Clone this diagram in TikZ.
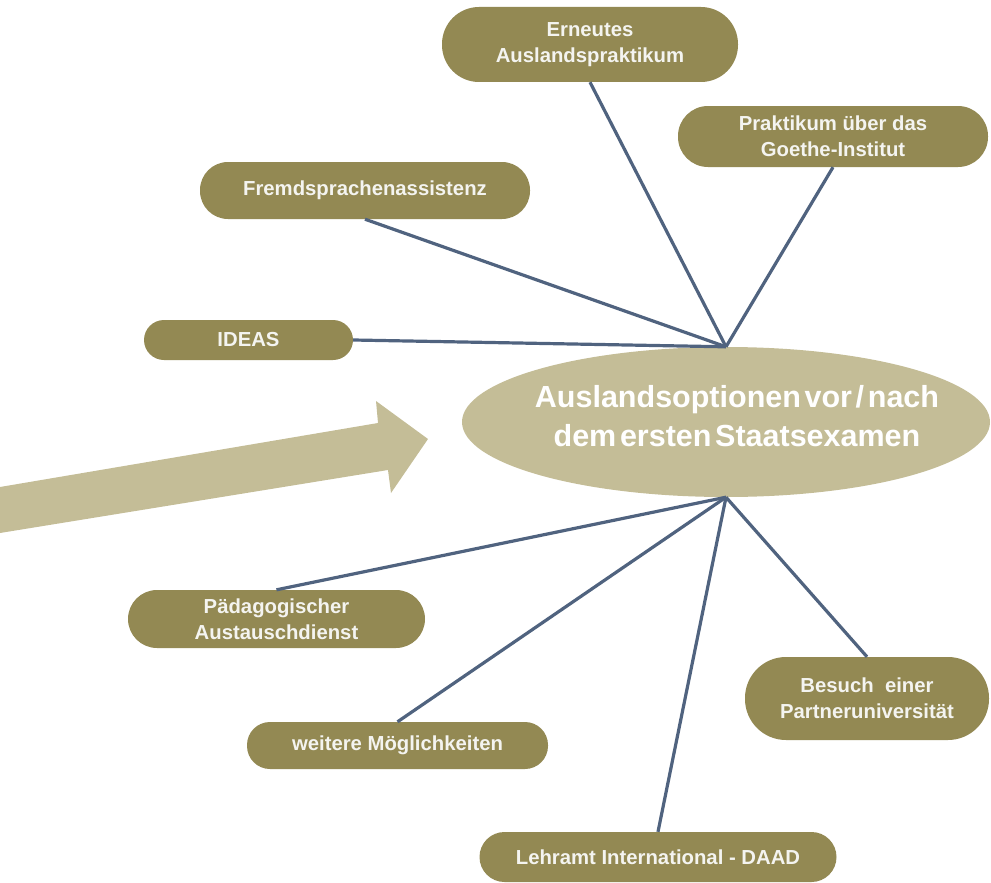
\documentclass[tikz,border=0pt]{standalone}
\usepackage{fontspec}
\setmainfont{Liberation Sans}
\usetikzlibrary{shapes.geometric}
\definecolor{boxfill}{HTML}{938953}
\definecolor{ellfill}{HTML}{C4BD97}
\definecolor{linecol}{HTML}{50637F}
\definecolor{txtcol}{HTML}{F4F4F0}
\tikzset{
  optbox/.style={fill=boxfill, text=txtcol, font=\fontsize{20.3}{26}\selectfont\bfseries,
    align=center, inner sep=0pt},
  conn/.style={draw=linecol, line width=3.2pt},
  centre/.style={ellipse, fill=ellfill, inner sep=0pt,
    minimum width=528pt, minimum height=150pt},
  centretext/.style={text=white, align=center, inner sep=0pt,
    font=\fontsize{30.5}{39}\selectfont\bfseries}
}
\begin{document}
\begin{tikzpicture}[x=1pt,y=-1pt]
\useasboundingbox (0,0) rectangle (991,883);
% big arrow
\fill[ellfill] (0,487) -- (378,423) -- (376,401) -- (428,439) -- (391,493) -- (388,470) -- (0,533) -- cycle;
% central ellipse
\node[centre] (c) at (726,422) {};
\node[centretext] (ct) at (737,416) {\spaceskip=0.12em Auslandsoptionen vor / nach\\\spaceskip=0.12em dem ersten Staatsexamen};
% boxes
\node[optbox, minimum width=296pt, minimum height=75pt, rounded corners=37pt] (erneut) at (590,44.5) {Erneutes\\Auslandspraktikum};
\node[optbox, minimum width=310pt, minimum height=61pt, rounded corners=30pt] (goethe) at (833,136.5) {Praktikum über das\\Goethe-Institut};
\node[optbox, minimum width=330pt, minimum height=57pt, rounded corners=28pt] (fremd) at (365,190.5) {Fremdsprachenassistenz};
\node[optbox, minimum width=209pt, minimum height=40pt, rounded corners=20pt] (ideas) at (248.5,340) {IDEAS};
\node[optbox, minimum width=297pt, minimum height=58pt, rounded corners=29pt] (paed) at (276.5,619) {Pädagogischer\\Austauschdienst};
\node[optbox, minimum width=244pt, minimum height=83pt, rounded corners=41pt] (besuch) at (867,698.5) {Besuch\ \ einer\\Partneruniversität};
\node[optbox, minimum width=301pt, minimum height=47pt, rounded corners=23pt] (weitere) at (397.5,745.5) {weitere Möglichkeiten};
\node[optbox, minimum width=357pt, minimum height=50pt, rounded corners=25pt] (lehramt) at (658,857) {Lehramt International - DAAD};
% connectors
\draw[conn] (erneut.south) -- (c.north);
\draw[conn] (goethe.south) -- (c.north);
\draw[conn] (fremd.south) -- (c.north);
\draw[conn] (ideas.east) -- (c.north);
\draw[conn] (c.south) -- (paed.north);
\draw[conn] (c.south) -- (weitere.north);
\draw[conn] (c.south) -- (lehramt.north);
\draw[conn] (c.south) -- (besuch.north);
\end{tikzpicture}
\end{document}
